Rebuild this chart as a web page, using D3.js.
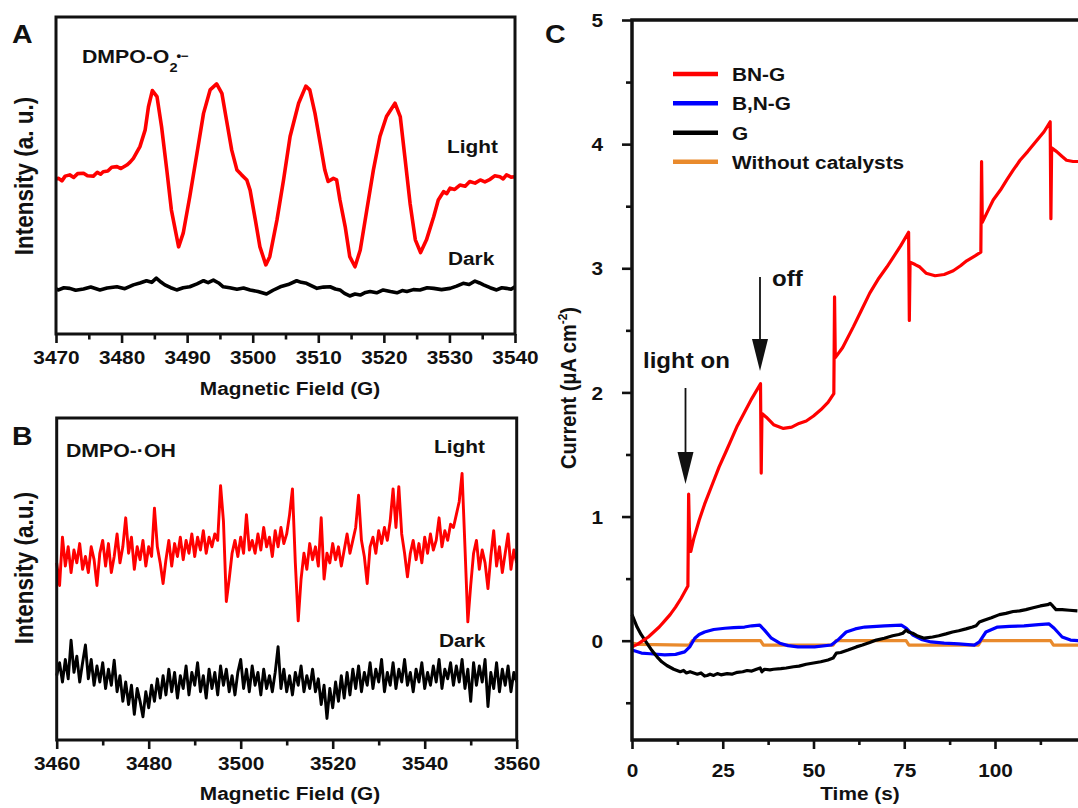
<!DOCTYPE html>
<html>
<head>
<meta charset="utf-8">
<script src="https://cdn.jsdelivr.net/npm/d3@7"></script>
<style>
  html, body { margin: 0; padding: 0; background: #fff; }
  svg { display: block; }
  text { font-family: "Liberation Sans", Arial, sans-serif; font-weight: bold; fill: #111; }
</style>
</head>
<body>
<svg id="fig" width="1078" height="808"></svg>
<script>
// ---------- Panel A: DMPO-O2 spin adduct (field in G, intensity in a.u.) ----------
const lightA = [
  [3470.0,49.0],[3470.4,49.1],[3470.9,48.3],[3471.4,49.8],[3472.1,50.2],[3472.7,49.4],[3473.3,50.6],[3474.2,50.7],
  [3474.8,49.9],[3475.7,49.8],[3476.3,51.0],[3476.8,50.4],[3477.2,51.2],[3477.9,51.4],[3478.5,52.6],[3479.3,52.8],
  [3479.9,52.2],[3480.8,53.3],[3481.3,54.2],[3481.8,55.4],[3482.8,59.1],[3483.6,64.4],[3484.1,71.7],[3484.7,76.8],
  [3485.4,74.9],[3486.1,65.4],[3486.9,51.7],[3487.6,39.1],[3488.7,27.5],[3489.4,31.8],[3490.4,43.3],[3491.5,57.0],
  [3492.5,69.6],[3493.5,77.0],[3494.5,78.9],[3495.3,75.9],[3496.0,67.5],[3496.8,58.0],[3497.6,51.7],[3498.3,50.2],
  [3499.1,48.6],[3499.6,45.4],[3500.4,36.0],[3501.1,27.5],[3502.0,21.8],[3502.6,24.4],[3503.7,36.0],[3504.7,48.6],
  [3505.7,62.3],[3507.0,72.8],[3508.1,78.2],[3508.7,77.0],[3509.5,69.6],[3510.3,60.1],[3511.0,51.7],[3511.5,48.1],
  [3512.3,49.1],[3512.8,48.6],[3513.3,42.3],[3514.1,33.9],[3514.8,24.4],[3515.6,21.2],[3516.4,26.5],[3517.4,39.1],
  [3518.4,51.7],[3519.4,62.3],[3520.4,68.6],[3521.7,72.8],[3522.5,68.6],[3523.2,55.9],[3524.0,41.2],[3524.8,29.7],
  [3525.6,25.7],[3526.5,29.7],[3527.6,37.0],[3528.3,42.3],[3529.1,44.9],[3529.6,44.3],[3530.1,46.0],[3530.8,45.6],
  [3531.6,47.0],[3532.4,46.6],[3533.1,48.1],[3533.9,47.6],[3534.7,48.6],[3535.4,48.0],[3536.2,48.8],[3536.9,49.9],
  [3537.7,49.6],[3538.2,48.9],[3538.7,50.2],[3539.4,49.5],[3540.0,49.6]
];
const darkA = [
  [3470.0,14.2],[3470.4,13.9],[3471.2,14.6],[3472.1,14.4],[3473.0,13.8],[3474.2,14.2],[3475.3,14.8],[3476.7,13.9],
  [3477.8,14.5],[3479.3,14.9],[3480.5,14.3],[3481.8,15.5],[3482.8,16.1],[3483.8,16.8],[3484.6,16.3],[3485.3,17.6],
  [3486.0,16.4],[3486.6,15.5],[3487.5,14.6],[3488.4,13.9],[3489.4,14.6],[3490.4,14.9],[3491.5,15.8],[3492.5,16.8],
  [3493.2,16.2],[3494.0,17.0],[3494.8,16.1],[3495.5,14.9],[3496.5,14.6],[3497.6,14.1],[3498.6,14.5],[3499.6,13.9],
  [3500.8,13.4],[3502.1,12.6],[3503.1,13.8],[3504.2,14.9],[3505.4,15.6],[3506.7,16.8],[3507.4,16.3],[3508.2,16.0],
  [3509.0,15.2],[3509.8,14.4],[3510.8,14.8],[3511.8,14.9],[3512.6,14.2],[3513.3,13.9],[3514.0,12.8],[3514.8,12.0],
  [3515.6,12.6],[3516.4,12.3],[3517.2,13.1],[3517.9,13.4],[3518.9,13.0],[3519.9,13.9],[3521.0,13.4],[3522.0,13.0],
  [3522.8,13.7],[3523.5,13.4],[3524.5,14.0],[3525.5,13.9],[3526.6,14.6],[3527.6,14.4],[3528.8,14.0],[3530.1,14.4],
  [3531.1,15.1],[3532.1,16.0],[3533.0,15.6],[3533.9,16.7],[3534.6,16.1],[3535.2,15.5],[3536.2,14.6],[3537.2,13.9],
  [3538.0,14.6],[3538.7,14.4],[3539.4,14.1],[3540.0,14.9]
];
const ticksA = [3470, 3480, 3490, 3500, 3510, 3520, 3530, 3540];
const minorTicksA = [3475, 3485, 3495, 3505, 3515, 3525, 3535];

// ---------- Panel B: DMPO-OH spin adduct, sampled every 0.625 G from 3460 G ----------
const fieldStartB = 3460, fieldStepB = 0.625;
const lightB = [
  55,48,63,54,60,52,59,55,61,53,57,52,60,56,48,58,62,54,61,52,
  57,64,55,60,69,58,63,53,60,56,62,54,60,57,72,60,55,48.6,56,62,
  54,61,57,63,56,62,58,64,57,63,59,65,58,63,60,64,62,79,68,43,
  50,58,62,57,63,58,70,59,62,58,64,59,66,60,63,57,65,60,66,61,
  64,70,78,55,37,50,58,53,61,56,60,54,69,50,58,55,61,56,60,54,
  59,64,58,62,66,76,62,57,48.6,60,63,58,65,61,66,62,68,78,66,78.7,
  64,58,50.7,58,62,56,61,55,63,58,64,59,62,69,60,65,62,67,66,70,
  74,82.8,60,36.7,48,58,62,53,59,55,47,57,65,54,60,52,58,64,53,59,
  55
];
const darkB = [
  20,24,18,25,19,31,21,26,18,24,29.5,19,25,17,23,18,24,16,22,17,
  24.8,15,20,12,18,11,17,8,16,12,7.2,15,10,17,12,19,13,20,14,22,
  15,21,13,20,16,23,14,21,17,24,15,20,13,22,16,21,14,23,17,22,
  15,20,14,21,25,16,22,15,23,17,21,14,22,16,20,15,21,29,16,22,
  15,20,14,21,17,23,15,20,16,22,15,19,11,17,6.7,16,10,18,12,20,
  13,21,14,22,16,23,15,21,17,24,16,22,18,25,15,21,17,24,16,22,
  18,25,17,21,15,22,18,24,16,21,17,23,18,25,16,22,19,24,17,23,
  18,25,16,22,12,24,17,23,18,25,10.4,21,16,24,15,22,17,23,15,21,
  18
];
const ticksB = [3460, 3480, 3500, 3520, 3540, 3560];
const minorTicksB = [3470, 3490, 3510, 3530, 3550];

// ---------- Panel C: photocurrent vs time (s, µA cm^-2) ----------
const seriesNames = ["BN-G", "B,N-G", "G", "Without catalysts"];
const seriesColors = ["#ff0000", "#0000ff", "#000000", "#e98a2c"];
const currentBNG = [
  [0,-0.05],[1.5,-0.03],[3,0.0],[4.5,0.03],[6,0.07],[7.5,0.11],[9,0.16],[10.5,0.21],[12,0.27],[13.5,0.34],
  [15.4,0.44],[15.6,1.18],[15.8,0.9],[16.2,0.72],[17,0.82],[18.5,0.97],[20,1.1],[22,1.25],[24,1.40],[26,1.53],
  [27.5,1.63],[29,1.73],[31,1.84],[33,1.95],[35.4,2.07],[35.6,1.35],[35.8,1.83],[37,1.80],[39,1.74],[41.7,1.71],
  [44,1.72],[46,1.75],[48,1.77],[50,1.81],[52,1.86],[54,1.92],[55.6,1.99],[55.8,2.77],[56,2.28],[58,2.36],
  [61,2.53],[63,2.65],[65.5,2.80],[68,2.92],[70.2,3.01],[72,3.09],[74,3.18],[76.2,3.29],[76.4,2.58],[76.6,3.05],
  [78,3.03],[79.3,3.01],[81,2.96],[83.5,2.94],[86,2.95],[88.5,2.98],[90.5,3.02],[92.2,3.06],[94.5,3.10],[96.1,3.13],
  [96.3,3.86],[96.5,3.37],[98,3.46],[99.5,3.55],[101.5,3.63],[103.2,3.71],[105,3.79],[106.9,3.87],[109,3.94],[111.5,4.03],
  [113.5,4.10],[115.2,4.18],[115.4,3.40],[115.6,3.97],[117,3.94],[118.5,3.90],[119.7,3.87],[121.5,3.86],[123,3.86]
];
const currentBNGsep = [
  [0,-0.075],[2.6,-0.10],[5,-0.105],[9,-0.115],[12,-0.11],[14.5,-0.09],[15.9,-0.05],[17.3,0.02],[18.5,0.05],[20,0.07],
  [22.5,0.09],[25.6,0.10],[28,0.105],[31,0.11],[33,0.12],[35.2,0.125],[36.5,0.085],[38.4,0.02],[40.7,-0.02],[43,-0.04],
  [45.7,-0.05],[50.3,-0.05],[54.9,-0.035],[56.7,0.005],[59,0.07],[61.5,0.095],[64.1,0.11],[69.6,0.12],[74.2,0.125],[75.6,0.10],
  [77.4,0.045],[79.7,0.01],[82.4,-0.01],[86,-0.02],[90,-0.025],[94.3,-0.035],[95.7,-0.01],[97.5,0.07],[100.7,0.11],[104,0.115],
  [108,0.12],[112,0.13],[114.9,0.135],[116.3,0.10],[118.5,0.03],[120.8,0.005],[123,0]
];
const currentG = [
  [0,0.21],[0.7,0.16],[1.4,0.11],[2.5,0.05],[4.1,-0.02],[5.5,-0.08],[6.9,-0.13],[8.2,-0.17],[9.6,-0.2],[11.5,-0.23],
  [13.3,-0.25],[14.2,-0.24],[15,-0.26],[16,-0.25],[17,-0.26],[18,-0.27],[19,-0.26],[20,-0.285],[20.7,-0.28],[21.5,-0.27],
  [22.5,-0.28],[23.5,-0.265],[24.5,-0.275],[26.2,-0.265],[27.5,-0.27],[29,-0.255],[30.5,-0.25],[31.7,-0.24],[33,-0.245],[34.3,-0.23],
  [35.3,-0.22],[35.8,-0.25],[36.5,-0.23],[38,-0.235],[39,-0.23],[41,-0.225],[42.5,-0.22],[44.5,-0.21],[46,-0.205],[48,-0.19],
  [50,-0.18],[52,-0.17],[54,-0.155],[55.4,-0.14],[56.3,-0.10],[57.5,-0.095],[59.5,-0.075],[61.8,-0.05],[63.5,-0.035],[65.5,-0.015],
  [67.3,0.005],[69.5,0.02],[71.8,0.04],[73.5,0.05],[74.6,0.06],[75.5,0.085],[76.2,0.07],[77.3,0.06],[78.5,0.04],[80.5,0.02],
  [82.8,0.03],[84.5,0.04],[86.5,0.055],[88.3,0.07],[90,0.08],[92,0.095],[93.8,0.11],[94.8,0.12],[95.7,0.15],[97,0.165],
  [99,0.185],[101.2,0.21],[103,0.22],[105,0.235],[106.8,0.24],[108.5,0.25],[110.5,0.265],[112.5,0.28],[114.5,0.29],[115.2,0.30],
  [115.9,0.28],[116.8,0.25],[118.5,0.25],[120.5,0.245],[122.7,0.24]
];
const currentBlank = [
  [0,-0.02],[2,-0.03],[15,-0.035],[15.8,-0.035],[16.6,0.0],[35.4,0.0],[36.2,-0.035],[55.4,-0.035],[56.2,0.0],[75.5,0.0],
  [76.3,-0.035],[95.4,-0.035],[96.2,0.0],[115.3,0.0],[116.1,-0.035],[123,-0.035]
];
const ticksCx = [0, 25, 50, 75, 100];
const minorTicksCx = [12.5, 37.5, 62.5, 87.5, 112.5];
const ticksCy = [0, 1, 2, 3, 4, 5];
const minorTicksCy = [-0.5, 0.5, 1.5, 2.5, 3.5, 4.5];

// ---------- drawing ----------
const SX = 1.12;           // horizontal glyph stretch used throughout the figure
const FS = 18.6;           // base label size
const ink = "#111";
const svg = d3.select("#fig");
svg.append("rect").attr("width", 1078).attr("height", 808).attr("fill", "#fff");

function label(g, x, y, str, size, anchor) {
  return g.append("text")
    .attr("transform", `translate(${x},${y}) scale(${SX},1)`)
    .attr("font-size", size)
    .attr("text-anchor", anchor || "start")
    .text(str);
}
function vlabel(g, x, y, size) {
  return g.append("text")
    .attr("transform", `translate(${x},${y}) rotate(-90) scale(1,${SX})`)
    .attr("font-size", size)
    .attr("text-anchor", "middle");
}

function bottomAxis(g, scale, y, majors, minors, fmt, labelOffset, majorLen, minorLen) {
  const a = g.append("g").attr("transform", `translate(0,${y})`)
    .call(d3.axisBottom(scale).tickValues(majors).tickSize(majorLen).tickSizeOuter(0).tickFormat(fmt));
  a.select(".domain").remove();
  a.selectAll(".tick line").attr("stroke", ink).attr("stroke-width", 2.6);
  a.selectAll(".tick text").attr("y", labelOffset).attr("dy", 0)
    .attr("font-size", FS).attr("transform", `scale(${SX},1)`);
  const m = g.append("g").attr("transform", `translate(0,${y})`)
    .call(d3.axisBottom(scale).tickValues(minors).tickSize(minorLen).tickSizeOuter(0).tickFormat(""));
  m.select(".domain").remove();
  m.selectAll(".tick line").attr("stroke", ink).attr("stroke-width", 2.6);
}

// Panel A
const gA = svg.append("g");
const xA = d3.scaleLinear().domain([3470, 3540]).range([56, 515]);
const yA = d3.scaleLinear().domain([0, 100]).range([334, 17]);
const lineA = d3.line().x(d => xA(d[0])).y(d => yA(d[1]));
gA.append("path").datum(darkA).attr("d", lineA).attr("fill", "none")
  .attr("stroke", "#000").attr("stroke-width", 3.6).attr("stroke-linejoin", "round");
gA.append("path").datum(lightA).attr("d", lineA).attr("fill", "none")
  .attr("stroke", "#ff0000").attr("stroke-width", 3.6).attr("stroke-linejoin", "round");
gA.append("rect").attr("x", xA.range()[0]).attr("y", yA.range()[1])
  .attr("width", xA.range()[1] - xA.range()[0]).attr("height", yA.range()[0] - yA.range()[1])
  .attr("fill", "none").attr("stroke", ink).attr("stroke-width", 3);
bottomAxis(gA, xA, yA.range()[0], ticksA, minorTicksA, d3.format("d"), 30, 9, 5.5);
label(gA, 12, 43, "A", 25.5);
const tA = label(gA, 82, 63, "", 19);
tA.append("tspan").text("DMPO-O");
tA.append("tspan").attr("font-size", 13).attr("dy", 8.5).text("2");
tA.append("tspan").attr("font-size", 12).attr("dy", -12).attr("dx", -1).text("•−");
label(gA, 447, 153, "Light", FS);
label(gA, 448, 265, "Dark", FS);
label(gA, 290, 395, "Magnetic Field (G)", FS, "middle");
vlabel(gA, 33, 176, 22.5).text("Intensity (a. u.)");

// Panel B
const gB = svg.append("g");
const xB = d3.scaleLinear().domain([3460, 3560]).range([56.7, 516.7]);
const yB = d3.scaleLinear().domain([0, 100]).range([740, 418]);
const lineB = d3.line().x((d, i) => xB(fieldStartB + i * fieldStepB)).y(d => yB(d));
gB.append("path").datum(darkB).attr("d", lineB).attr("fill", "none")
  .attr("stroke", "#000").attr("stroke-width", 2.9).attr("stroke-linejoin", "round");
gB.append("path").datum(lightB).attr("d", lineB).attr("fill", "none")
  .attr("stroke", "#ff0000").attr("stroke-width", 2.9).attr("stroke-linejoin", "round");
gB.append("rect").attr("x", xB.range()[0]).attr("y", yB.range()[1])
  .attr("width", xB.range()[1] - xB.range()[0]).attr("height", yB.range()[0] - yB.range()[1])
  .attr("fill", "none").attr("stroke", ink).attr("stroke-width", 3);
bottomAxis(gB, xB, yB.range()[0], ticksB, minorTicksB, d3.format("d"), 30, 9, 5.5);
label(gB, 12, 445, "B", 25.5);
label(gB, 66, 457, "DMPO-·OH", 19);
label(gB, 434, 453, "Light", FS);
label(gB, 439, 647, "Dark", FS);
label(gB, 290, 800, "Magnetic Field (G)", FS, "middle");
vlabel(gB, 33, 568, 22.5).text("Intensity (a.u.)");

// Panel C
const gC = svg.append("g");
const xC = d3.scaleLinear().domain([0, 125]).range([632, 1085.75]);
const yC = d3.scaleLinear().domain([-0.8, 5]).range([740, 20]);
const lineC = d3.line().x(d => xC(d[0])).y(d => yC(d[1]));
const seriesC = [currentBNG, currentBNGsep, currentG, currentBlank];
[3, 1, 2, 0].forEach(k => {
  gC.append("path").datum(seriesC[k]).attr("d", lineC).attr("fill", "none")
    .attr("stroke", seriesColors[k]).attr("stroke-width", 3.2).attr("stroke-linejoin", "round");
});
gC.append("rect").attr("x", xC.range()[0]).attr("y", yC.range()[1])
  .attr("width", xC.range()[1] - xC.range()[0]).attr("height", yC.range()[0] - yC.range()[1])
  .attr("fill", "none").attr("stroke", ink).attr("stroke-width", 3.5);
bottomAxis(gC, xC, yC.range()[0], ticksCx, minorTicksCx, d3.format("d"), 37, 9, 5);
const ay = gC.append("g").attr("transform", `translate(${xC.range()[0]},0)`)
  .call(d3.axisLeft(yC).tickValues(ticksCy).tickSize(10).tickSizeOuter(0).tickFormat(d3.format("d")));
ay.select(".domain").remove();
ay.selectAll(".tick line").attr("stroke", ink).attr("stroke-width", 2.6);
ay.selectAll(".tick text").attr("x", -29 / SX).attr("dy", "0.36em").attr("font-size", FS)
  .attr("transform", `scale(${SX},1)`);
const ayMinor = gC.append("g").attr("transform", `translate(${xC.range()[0]},0)`)
  .call(d3.axisLeft(yC).tickValues(minorTicksCy).tickSize(6).tickSizeOuter(0).tickFormat(""));
ayMinor.select(".domain").remove();
ayMinor.selectAll(".tick line").attr("stroke", ink).attr("stroke-width", 2.6);

label(gC, 545, 43, "C", 25.5);
label(gC, 860, 800, "Time (s)", FS, "middle");
const tC = vlabel(gC, 576, 388, 20);
tC.append("tspan").text("Current (μA cm");
tC.append("tspan").attr("font-size", 12).attr("dy", -8).text("-2");
tC.append("tspan").attr("dy", 8).text(")");

// legend
const legY = [74, 103.3, 132.7, 161.7];
seriesNames.forEach((name, k) => {
  gC.append("line").attr("x1", 673).attr("x2", 718).attr("y1", legY[k]).attr("y2", legY[k])
    .attr("stroke", seriesColors[k]).attr("stroke-width", 4.5);
  label(gC, 732, legY[k] + 7, name, FS);
});

// light on / off annotations
function arrow(x, yTop, yTip) {
  gC.append("line").attr("x1", x).attr("x2", x).attr("y1", yTop).attr("y2", yTip - 30)
    .attr("stroke", ink).attr("stroke-width", 1.8);
  gC.append("path").attr("d", `M${x - 8},${yTip - 32} L${x + 8},${yTip - 32} L${x},${yTip} Z`)
    .attr("fill", ink);
}
arrow(685.5, 388, 484);
arrow(760, 277, 371);
label(gC, 643, 368, "light on", 21.5);
label(gC, 772, 286, "off", 21.5);
</script>
</body>
</html>
